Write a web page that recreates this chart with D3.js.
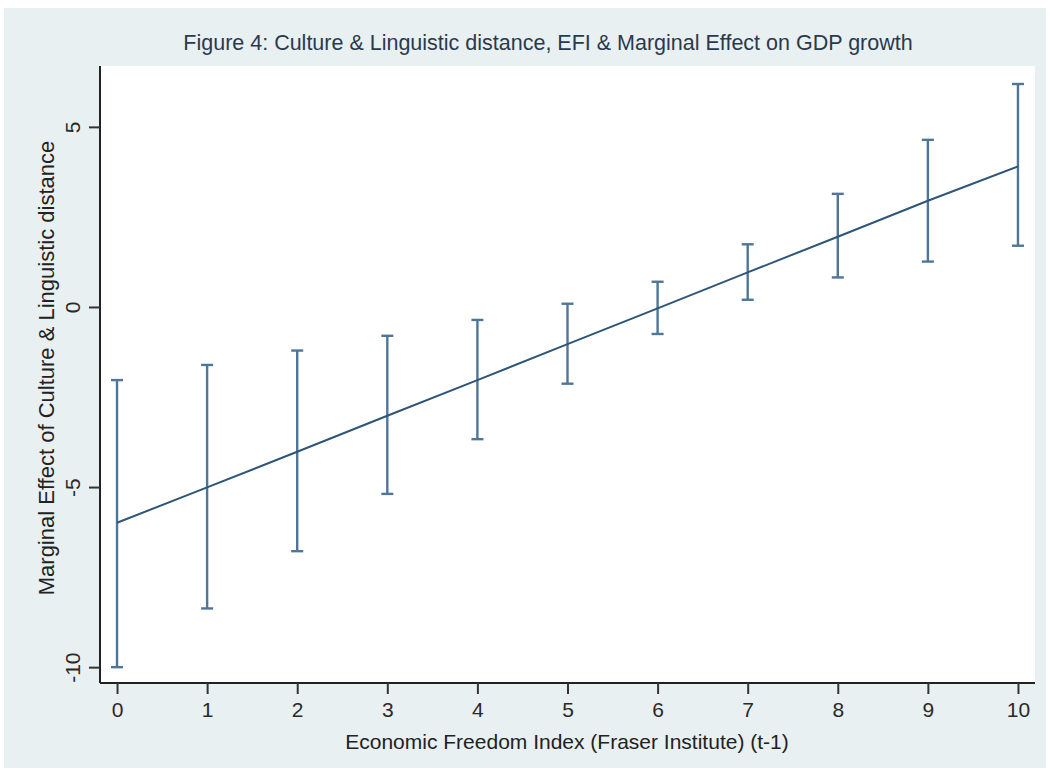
<!DOCTYPE html>
<html>
<head>
<meta charset="utf-8">
<script src="https://cdn.jsdelivr.net/npm/d3@7"></script>
<style>
  html, body { margin: 0; padding: 0; background: #ffffff; }
  svg { display: block; }
  text { font-family: "Liberation Sans", Arial, sans-serif; }
</style>
</head>
<body>
<svg id="chart" width="1050" height="771"></svg>
<script>
// Economic Freedom Index levels (x) and the estimated marginal effect with its confidence interval
const efi = [0, 1, 2, 3, 4, 5, 6, 7, 8, 9, 10];
const effect = [-5.99, -5.01, -4.02, -3.02, -2.03, -1.03, -0.04, 0.96, 1.95, 2.95, 3.90];
const ciLower = [-10.0, -8.37, -6.78, -5.19, -3.67, -2.13, -0.75, 0.20, 0.82, 1.26, 1.70];
const ciUpper = [-2.03, -1.61, -1.21, -0.80, -0.36, 0.09, 0.70, 1.74, 3.14, 4.64, 6.19];
const xTicks = [0, 1, 2, 3, 4, 5, 6, 7, 8, 9, 10];
const yTicks = [-10, -5, 0, 5];

const titleText = "Figure 4: Culture & Linguistic distance, EFI & Marginal Effect on GDP growth";
const xTitle = "Economic Freedom Index (Fraser Institute) (t-1)";
const yTitle = "Marginal Effect of Culture & Linguistic distance";

const svg = d3.select("#chart");

// outer graph region
svg.append("rect")
  .attr("x", 4).attr("y", 8).attr("width", 1042).attr("height", 760)
  .attr("fill", "#e8f0f2");

const plot = { left: 100, right: 1035, top: 66, bottom: 683 };

// plot region
svg.append("rect")
  .attr("x", plot.left).attr("y", plot.top)
  .attr("width", plot.right - plot.left).attr("height", plot.bottom - plot.top)
  .attr("fill", "#ffffff");

const x = d3.scaleLinear().domain([-0.189, 10.189]).range([plot.left, plot.right]);
const y = d3.scaleLinear().domain([-10.44, 6.69]).range([plot.bottom, plot.top]);

const fmt = d => String(d); // plain hyphen-minus for negatives

// axes
const xAxis = d3.axisBottom(x).tickValues(xTicks).tickSize(11).tickPadding(8).tickFormat(fmt);
const gx = svg.append("g").attr("transform", `translate(0,${plot.bottom})`).call(xAxis);
gx.attr("font-size", null).attr("font-family", null);
gx.select(".domain").attr("stroke", "#222").attr("stroke-width", 2);
gx.selectAll(".tick line").attr("stroke", "#333").attr("stroke-width", 2);
gx.selectAll(".tick text").attr("font-size", 21).attr("fill", "#2a2a2a");

const yAxis = d3.axisLeft(y).tickValues(yTicks).tickSize(11).tickPadding(0).tickFormat(fmt);
const gy = svg.append("g").attr("transform", `translate(${plot.left},0)`).call(yAxis);
gy.attr("font-size", null).attr("font-family", null);
gy.select(".domain").attr("stroke", "#222").attr("stroke-width", 2);
gy.selectAll(".tick line").attr("stroke", "#333").attr("stroke-width", 2);
gy.selectAll(".tick text")
  .attr("font-size", 21).attr("fill", "#2a2a2a")
  .attr("x", null).attr("dy", null)
  .attr("text-anchor", "middle")
  .attr("transform", "translate(-28,0) rotate(-90)")
  .attr("dominant-baseline", "central");

// axes meet cleanly at the corner
gx.select(".domain").attr("d", `M${plot.left},0H${plot.right}`);
gy.select(".domain").attr("d", `M0,${plot.bottom}V${plot.top}`);

const rows = efi.map((e, i) => ({ e, m: effect[i], lo: ciLower[i], hi: ciUpper[i] }));
const ciColor = "#4f7698";
const capHalf = 6;

// confidence interval spikes with caps
const ci = svg.append("g").attr("stroke", ciColor).attr("stroke-width", 2.4).attr("fill", "none");
ci.selectAll("line.spike").data(rows).join("line").attr("class", "spike")
  .attr("x1", d => x(d.e)).attr("x2", d => x(d.e))
  .attr("y1", d => y(d.lo)).attr("y2", d => y(d.hi));
ci.selectAll("line.capHi").data(rows).join("line").attr("class", "capHi")
  .attr("x1", d => x(d.e) - capHalf).attr("x2", d => x(d.e) + capHalf)
  .attr("y1", d => y(d.hi)).attr("y2", d => y(d.hi));
ci.selectAll("line.capLo").data(rows).join("line").attr("class", "capLo")
  .attr("x1", d => x(d.e) - capHalf).attr("x2", d => x(d.e) + capHalf)
  .attr("y1", d => y(d.lo)).attr("y2", d => y(d.lo));

// marginal effect line
svg.append("path").datum(rows)
  .attr("fill", "none").attr("stroke", "#2d5679").attr("stroke-width", 2)
  .attr("d", d3.line().x(d => x(d.e)).y(d => y(d.m)));

// titles
svg.append("text").attr("x", 548).attr("y", 50).attr("text-anchor", "middle")
  .attr("font-size", 21.5).attr("fill", "#2a3a4c").text(titleText);
svg.append("text").attr("x", 567).attr("y", 749).attr("text-anchor", "middle")
  .attr("font-size", 21).attr("fill", "#222").text(xTitle);
svg.append("text").attr("transform", "translate(54,368) rotate(-90)").attr("text-anchor", "middle")
  .attr("font-size", 22).attr("fill", "#222").text(yTitle);
</script>
</body>
</html>
